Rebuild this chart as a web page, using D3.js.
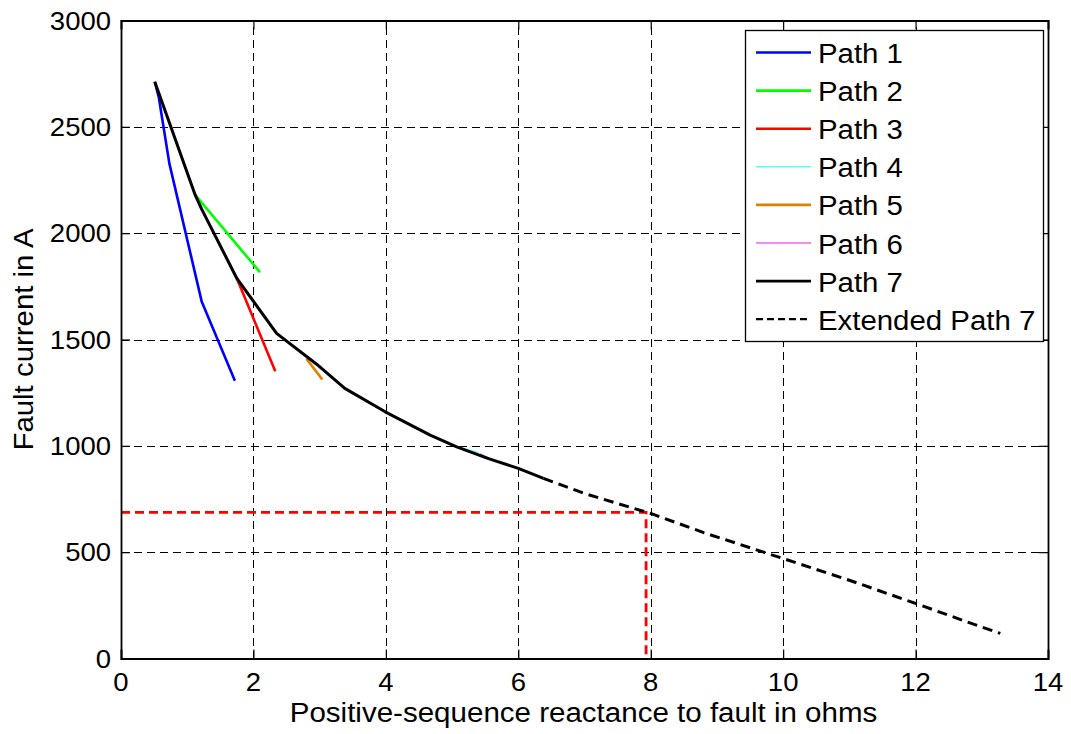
<!DOCTYPE html>
<html>
<head>
<meta charset="utf-8">
<script src="https://cdn.jsdelivr.net/npm/d3@7/dist/d3.min.js"></script>
<style>
  html, body { margin: 0; padding: 0; background: #ffffff; }
  svg { display: block; font-family: "Liberation Sans", Arial, sans-serif; }
</style>
</head>
<body>
<svg id="chart" width="1071" height="734"></svg>
<script>
// Fault current (A) versus positive-sequence reactance to the fault (ohms)
const xTicks = [0, 2, 4, 6, 8, 10, 12, 14];
const yTicks = [0, 500, 1000, 1500, 2000, 2500, 3000];

const path1X = [0.51, 0.57, 0.73, 1.22, 1.72];
const path1Y = [2712, 2640, 2328, 1677, 1306];

const path2X = [1.12, 2.10];
const path2Y = [2180, 1816];

const path3X = [1.75, 2.33];
const path3Y = [1787, 1351];

const path4X = [5.10, 5.40];
const path4Y = [995, 968];

const path5X = [2.80, 3.04];
const path5Y = [1410, 1312];

const path6X = [5.42, 5.57];
const path6Y = [963, 940];

const path7X = [0.51, 1.12, 1.22, 1.75, 2.35, 2.95, 3.38, 3.99, 4.67, 5.07, 5.55, 6.00, 6.38];
const path7Y = [2712, 2180, 2112, 1787, 1529, 1385, 1270, 1160, 1050, 995, 940, 894, 847];

const extX = [6.38, 7.0, 8.0, 8.8, 10.0, 11.0, 12.0, 12.77, 13.28];
const extY = [847, 776, 682, 592, 470, 368, 259, 173, 118];

// Reference point
const markX = 7.93;
const markY = 687;

const legendLabels = ["Path 1", "Path 2", "Path 3", "Path 4", "Path 5", "Path 6", "Path 7", "Extended Path 7"];

const svg = d3.select("#chart");
const plotLeft = 121, plotRight = 1048, plotTop = 20.5, plotBottom = 658.5;

const x = d3.scaleLinear().domain([0, 14]).range([plotLeft, plotRight]);
const y = d3.scaleLinear().domain([0, 3000]).range([plotBottom, plotTop]);

// Grid
const grid = svg.append("g").attr("stroke", "#000").attr("stroke-width", 1)
  .attr("stroke-dasharray", "8,5").attr("shape-rendering", "crispEdges");
grid.selectAll("line.gx").data(xTicks.slice(1)).join("line").attr("class", "gx")
  .attr("x1", d => Math.round(x(d)) + 0.5).attr("x2", d => Math.round(x(d)) + 0.5)
  .attr("y1", plotBottom).attr("y2", plotTop);
grid.selectAll("line.gy").data(yTicks.slice(1)).join("line").attr("class", "gy")
  .attr("y1", d => Math.round(y(d)) + 0.5).attr("y2", d => Math.round(y(d)) + 0.5)
  .attr("x1", plotLeft).attr("x2", plotRight);

// Curves
const line = d3.line().x(d => x(d[0])).y(d => y(d[1]));
const zip = (xs, ys) => xs.map((v, i) => [v, ys[i]]);

const series = [
  { xs: path1X, ys: path1Y, color: "#0000ff", w: 2.6 },
  { xs: path2X, ys: path2Y, color: "#00ff00", w: 2.6 },
  { xs: path3X, ys: path3Y, color: "#ff0000", w: 2.6 },
  { xs: path4X, ys: path4Y, color: "#55ffff", w: 1.5 },
  { xs: path5X, ys: path5Y, color: "#e08000", w: 2.6 },
  { xs: path6X, ys: path6Y, color: "#ee66ee", w: 1.5 },
];

// Reference lines to the axes
svg.append("path")
  .attr("d", line([[0, markY], [markX, markY], [markX, 0]]))
  .attr("fill", "none").attr("stroke", "#ff0000").attr("stroke-width", 2.8)
  .attr("stroke-dasharray", "9,5");

series.forEach(s => {
  svg.append("path").attr("d", line(zip(s.xs, s.ys)))
    .attr("fill", "none").attr("stroke", s.color).attr("stroke-width", s.w)
    .attr("stroke-linejoin", "round");
});

svg.append("path").attr("d", line(zip(path7X, path7Y)))
  .attr("fill", "none").attr("stroke", "#000").attr("stroke-width", 3)
  .attr("stroke-linejoin", "round");

svg.append("path").attr("d", line(zip(extX, extY)))
  .attr("fill", "none").attr("stroke", "#000").attr("stroke-width", 3)
  .attr("stroke-dasharray", "10,6");

// Axes box with inward ticks
const xAxisB = d3.axisBottom(x).tickValues(xTicks).tickSize(-9).tickFormat("");
const xAxisT = d3.axisTop(x).tickValues(xTicks).tickSize(-9).tickFormat("");
const yAxisL = d3.axisLeft(y).tickValues(yTicks).tickSize(-9).tickFormat("");
const yAxisR = d3.axisRight(y).tickValues(yTicks).tickSize(-9).tickFormat("");
[[xAxisB, `translate(0,${plotBottom})`], [xAxisT, `translate(0,${plotTop})`],
 [yAxisL, `translate(${plotLeft},0)`], [yAxisR, `translate(${plotRight},0)`]].forEach(([ax, tr]) => {
  const g = svg.append("g").attr("transform", tr).call(ax);
  g.select(".domain").attr("stroke", "#000").attr("stroke-width", 1.8);
  g.selectAll(".tick line").attr("stroke", "#000").attr("stroke-width", 1.2);
});

// Tick labels
svg.append("g").selectAll("text").data(xTicks).join("text")
  .attr("transform", d => `translate(${x(d)},690.5) scale(1.1,1)`)
  .attr("text-anchor", "middle").attr("font-size", 25).attr("fill", "#000")
  .text(d => d);
svg.append("g").selectAll("text").data(yTicks).join("text")
  .attr("transform", d => `translate(111,${y(d) + 9}) scale(1.1,1)`)
  .attr("text-anchor", "end").attr("font-size", 25).attr("fill", "#000")
  .text(d => d);

// Axis titles
svg.append("text")
  .attr("transform", `translate(${(plotLeft + plotRight) / 2 - 1},722) scale(1.055,1)`)
  .attr("text-anchor", "middle").attr("font-size", 28).attr("fill", "#000")
  .text("Positive-sequence reactance to fault in ohms");
svg.append("text")
  .attr("transform", `translate(33,${(plotTop + plotBottom) / 2}) rotate(-90) scale(1.05,1)`)
  .attr("text-anchor", "middle").attr("font-size", 28).attr("fill", "#000")
  .text("Fault current in A");

// Legend
const legendStyles = [
  { color: "#0000ff", w: 2.6, dash: null },
  { color: "#00ff00", w: 2.6, dash: null },
  { color: "#ff0000", w: 2.6, dash: null },
  { color: "#55ffff", w: 1.5, dash: null },
  { color: "#e08000", w: 2.6, dash: null },
  { color: "#ee66ee", w: 1.5, dash: null },
  { color: "#000000", w: 2.6, dash: null },
  { color: "#000000", w: 2.2, dash: "7,4" },
];
const lg = svg.append("g");
lg.append("rect").attr("x", 745.5).attr("y", 30.5).attr("width", 298).attr("height", 311)
  .attr("fill", "#fff").attr("stroke", "#000").attr("stroke-width", 1.3);
const rows = lg.selectAll("g.row").data(legendLabels).join("g").attr("class", "row")
  .attr("transform", (d, i) => `translate(0,${52.5 + i * 38.1})`);
rows.append("line").attr("x1", 756).attr("x2", 811).attr("y1", 0).attr("y2", 0)
  .attr("stroke", (d, i) => legendStyles[i].color)
  .attr("stroke-width", (d, i) => legendStyles[i].w)
  .attr("stroke-dasharray", (d, i) => legendStyles[i].dash);
rows.append("text").attr("transform", "translate(818,10.5) scale(1.05,1)")
  .attr("font-size", 28).attr("fill", "#000").text(d => d);
</script>
</body>
</html>
